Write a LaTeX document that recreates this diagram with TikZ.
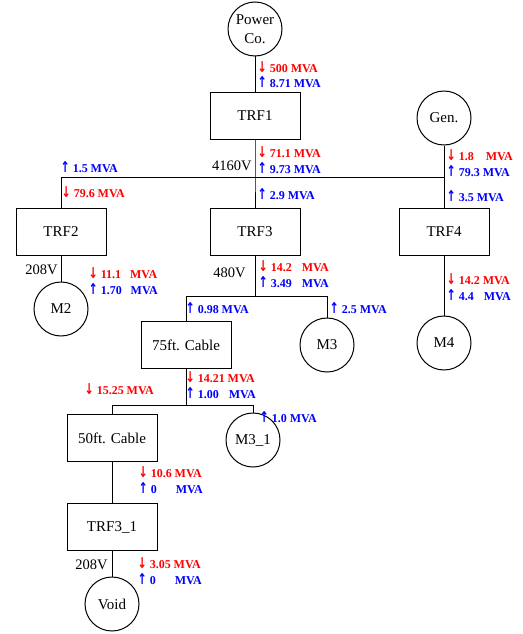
\documentclass[tikz,border=0pt]{standalone}
\usepackage{fontspec}
\setmainfont{Liberation Serif}
\newfontfamily\arrfont{DejaVu Sans}
\newcommand{\dn}{\scalebox{0.85}[1.15]{\arrfont\bfseries\fontsize{13}{14}\selectfont ↓}\ }
\newcommand{\up}{\scalebox{0.85}[1.15]{\arrfont\bfseries\fontsize{13}{14}\selectfont ↑}\ }
\begin{document}
\begin{tikzpicture}[x=1pt,y=-1pt,line width=1pt,
  box/.style={draw,minimum width=90pt,minimum height=47pt,inner sep=0pt,font=\fontsize{15}{18}\selectfont},
  load/.style={draw,circle,minimum size=54pt,inner sep=0pt,align=center,font=\fontsize{15}{19}\selectfont},
  volt/.style={anchor=east,inner sep=0pt,font=\fontsize{14.5}{17}\selectfont},
  flow/.style={anchor=base west,inner sep=0pt,font=\bfseries\fontsize{12}{14}\selectfont},
  dnflow/.style={flow,text=red},
  upflow/.style={flow,text=blue}]
\useasboundingbox (0,0) rectangle (522,634);
% sources and transformers on the 4160V bus
\node[load] (pc) at (255,29) {Power\\Co.};
\node[box] (trf1) at (255,116) {TRF1};
\node[load] (gen) at (444,118) {Gen.};
\node[box] (trf2) at (61,232) {TRF2};
\node[box] (trf3) at (255,232) {TRF3};
\node[box] (trf4) at (444,232) {TRF4};
\node[load] (m2) at (61,309) {M2};
\node[load] (m4) at (444,343) {M4};
% 480V side
\node[box] (c75) at (186,345) {75ft. Cable};
\node[load] (m3) at (327,345) {M3};
\node[box] (c50) at (112,438) {50ft. Cable};
\node[load] (m31) at (253,440) {M3\_1};
\node[box] (trf31) at (112,527) {TRF3\_1};
\node[load] (void) at (112,604) {Void};
% bus taps
\coordinate (b1) at (255,177);
\coordinate (bW) at (61,177);
\coordinate (bE) at (444,177);
\coordinate (s1) at (255,296);
\coordinate (sW) at (186,296);
\coordinate (sE) at (327,296);
\coordinate (c1) at (186,405);
\coordinate (cW) at (112,405);
\coordinate (cE) at (253,405);
% wiring
\draw (pc) -- (trf1);
\draw (trf1) -- (b1) -- (trf3);
\draw (bW) -- (bE);
\draw (bW) -- (trf2);
\draw (gen) -- (trf4);
\draw (trf2) -- (m2);
\draw (trf4) -- (m4);
\draw (trf3) -- (s1);
\draw (sW) -- (sE);
\draw (sW) -- (c75);
\draw (sE) -- (m3);
\draw (c75) -- (c1);
\draw (cW) -- (cE);
\draw (cW) -- (c50);
\draw (cE) -- (m31);
\draw (c50) -- (trf31);
\draw (trf31) -- (void);
% voltages
\node[volt] (v4160) at (252,166) {4160V};
\node[volt] (v208a) at (58,270) {208V};
\node[volt] (v480) at (246,273) {480V};
\node[volt] (v208b) at (108,565) {208V};
% flows (baseline = text middle + 4)
\node[dnflow] (f1) at (257,72) {\dn 500 MVA};
\node[upflow] (f2) at (257,87) {\up 8.71 MVA};
\node[dnflow] (f3) at (257,157) {\dn 71.1 MVA};
\node[upflow] (f4) at (257,173) {\up 9.73 MVA};
\node[upflow] (f5) at (60,172) {\up 1.5 MVA};
\node[dnflow] (f6) at (61,197) {\dn 79.6 MVA};
\node[upflow] (f7) at (257,199) {\up 2.9 MVA};
\node[dnflow] (f8) at (446,160) {\dn 1.8\hspace{12pt}MVA};
\node[upflow] (f9) at (446,176) {\up 79.3 MVA};
\node[upflow] (f10) at (446,201) {\up 3.5 MVA};
\node[dnflow] (f11) at (88,278) {\dn 11.1\hspace{9pt}MVA};
\node[upflow] (f12) at (88,294) {\up 1.70\hspace{9pt}MVA};
\node[dnflow] (f13) at (258,271) {\dn 14.2\hspace{10pt}MVA};
\node[upflow] (f14) at (258,287) {\up 3.49\hspace{10pt}MVA};
\node[dnflow] (f15) at (446,284) {\dn 14.2 MVA};
\node[upflow] (f16) at (446,300) {\up 4.4\hspace{10pt}MVA};
\node[upflow] (f17) at (185,313) {\up 0.98 MVA};
\node[upflow] (f18) at (329,313) {\up 2.5 MVA};
\node[dnflow] (f19) at (185,382) {\dn 14.21 MVA};
\node[upflow] (f20) at (185,398) {\up 1.00\hspace{10pt}MVA};
\node[dnflow] (f21) at (84,394) {\dn 15.25 MVA};
\node[upflow] (f22) at (259,422) {\up 1.0 MVA};
\node[dnflow] (f23) at (138,477) {\dn 10.6 MVA};
\node[upflow] (f24) at (138,493) {\up 0\hspace{19pt}MVA};
\node[dnflow] (f25) at (137,568) {\dn 3.05 MVA};
\node[upflow] (f26) at (137,584) {\up 0\hspace{19pt}MVA};
\end{tikzpicture}
\end{document}
